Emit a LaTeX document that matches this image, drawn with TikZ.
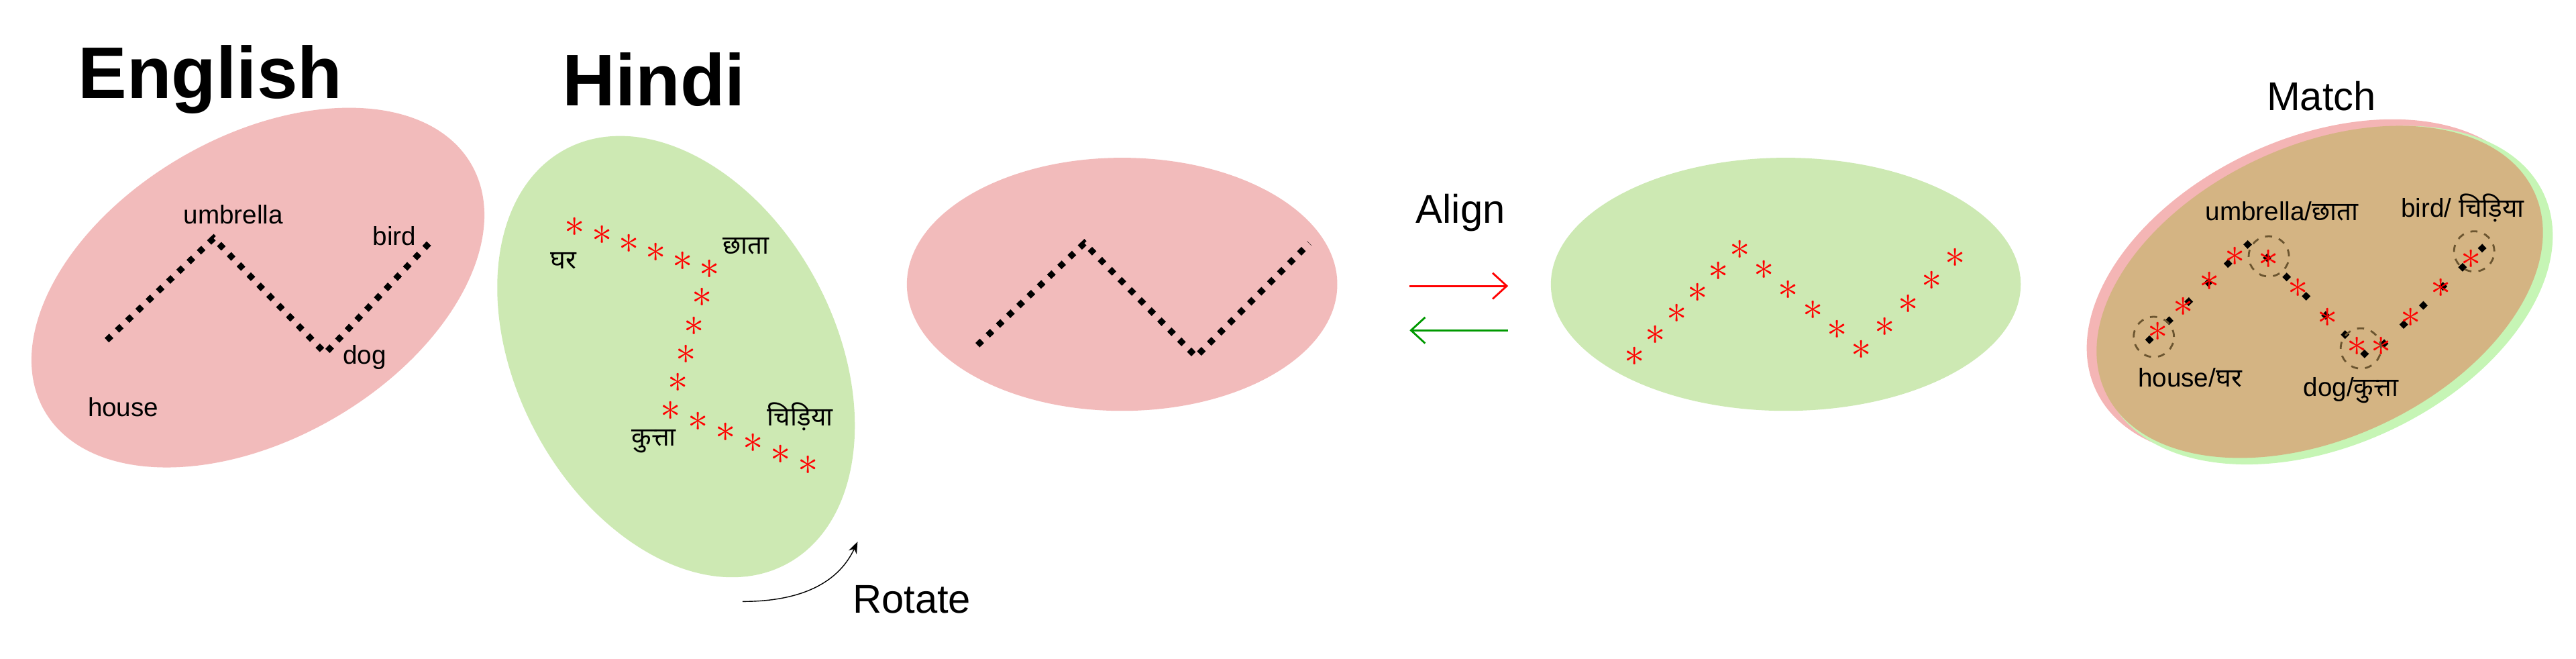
\documentclass[tikz,border=0pt]{standalone}
\usepackage{fontspec}
\setmainfont{Liberation Sans}
\newfontfamily\hindi[Script=Devanagari]{Noto Sans}
\usetikzlibrary{calc}
\usetikzlibrary{arrows.meta}

\definecolor{pinkfill}{HTML}{F2BBBB}
\definecolor{greenfill}{HTML}{CDE9B3}
\definecolor{matchpink}{HTML}{F4B5B5}
\definecolor{matchgreen}{HTML}{C6F5B5}
\definecolor{matchbrown}{HTML}{D4B483}
\definecolor{ringbrown}{HTML}{6B5530}

\tikzset{
  title/.style={font=\fontsize{31}{36}\selectfont\bfseries},
  action/.style={font=\fontsize{17}{20}\selectfont},
  word/.style={font=\fontsize{11}{13}\selectfont, inner sep=1pt},
  zigzag/.style={line width=2.6pt, dash pattern=on 2.6pt off 3.4pt},
  star/.style={text=red, inner sep=0pt, font=\LARGE},
  ring/.style={circle, draw=ringbrown, dashed, thick, minimum size=0.6cm, inner sep=0pt},
}

\begin{document}
\begin{tikzpicture}[x=0.02449cm, y=0.02449cm]
            % Define the page
            \useasboundingbox (0,0) rectangle (1568,400.6);
            \def\stars#1#2#3#4{% from, to, first, intervals
              \foreach \i in {#3,...,#4} {
                \node[star] at ($(#1)!{\i/#4}!(#2)$) {$\ast$};
              }}

            % English cloud
            \node[title] (english) at (128,352) {English};
            \fill[pinkfill] (157,225.6) ellipse[x radius=150, y radius=92, rotate=30];
            \coordinate (E1) at (65,193.6);
            \coordinate (E2) at (130,255.6);
            \coordinate (E3) at (198,185.6);
            \coordinate (E4) at (264,255.6);
            \draw[zigzag] (E1) -- (E2) -- (E3) -- (E4);
            \node[word] (umbrella) at (142,270) {umbrella};
            \node[word] (bird) at (240,257) {bird};
            \node[word] (dog) at (222,183) {dog};
            \node[word] (house) at (75,153) {house};

            % Hindi cloud
            \node[title] (hindi) at (398,352) {Hindi};
            \fill[greenfill] (411.5,183.6) ellipse[x radius=143, y radius=97, rotate=-62];
            \coordinate (H1) at (350,262.6);
            \coordinate (H2) at (432,236.6);
            \coordinate (H3) at (408,150.6);
            \coordinate (H4) at (492,117.6);
            \stars{H1}{H2}{0}{5}
            \stars{H2}{H3}{1}{5}
            \stars{H3}{H4}{1}{5}
            \node[word] (ghar) at (343,242) {\hindi घर};
            \node[word] (chhata) at (454,251) {\hindi छाता};
            \node[word] (kutta) at (398,132) {\hindi कुत्ता};
            \node[word] (chidiya) at (487,147) {\hindi चिड़िया};

            % Rotate
            \coordinate (rotS) at (452,34.6);
            \coordinate (rotE) at (522,71);
            \draw[-{Stealth[length=5pt]}, thin] (rotS) to[out=0, in=245] (rotE);
            \node[action] (rotate) at (555,36) {Rotate};

            % Align
            \fill[pinkfill] (683,227.6) ellipse[x radius=131, y radius=77];
            \coordinate (A1) at (595,190.6);
            \coordinate (A2) at (660,252.6);
            \coordinate (A3) at (728,183.6);
            \coordinate (A4) at (797,252.6);
            \draw[zigzag] (A1) -- (A2) -- (A3) -- (A4);
            \fill[greenfill] (1087,227.6) ellipse[x radius=143, y radius=77];
            \coordinate (B1) at (995,183.6);
            \coordinate (B2) at (1059,248.6);
            \coordinate (B3) at (1133,187.6);
            \coordinate (B4) at (1190,243.6);
            \stars{B1}{B2}{0}{5}
            \stars{B2}{B3}{1}{5}
            \stars{B3}{B4}{1}{4}
            \node[action] (align) at (889,271) {Align};
            \coordinate (fwdS) at (858,226.6);
            \coordinate (fwdE) at (918,226.6);
            \coordinate (bckS) at (918,199.6);
            \coordinate (bckE) at (858,199.6);
            \draw[red, thick, -{Straight Barb[length=6pt, width=11pt]}] (fwdS) -- (fwdE);
            \draw[green!60!black, thick, -{Straight Barb[length=6pt, width=11pt]}] (bckS) -- (bckE);

            % Match
            \node[action] (match) at (1413,342) {Match};
            \fill[matchpink] (1408,225) ellipse[x radius=146, y radius=91, rotate=25];
            \fill[matchgreen] (1416,221) ellipse[x radius=146, y radius=91, rotate=25];
            \fill[matchbrown] (1412,223) ellipse[x radius=144, y radius=89, rotate=25];
            \coordinate (M1) at (1307,192.6);
            \coordinate (M2) at (1370,253.6);
            \coordinate (M3) at (1442,182.6);
            \coordinate (M4) at (1515,253.6);
            \draw[zigzag, dash pattern=on 2.6pt off 9pt] (M1) -- (M2) -- (M3) -- (M4);
            \foreach \t in {0.1,0.35,0.6,0.85} {
              \node[star] at ($(M1)!\t!(M2)$) {$\ast$};
              \node[star] at ($(M3)!\t!(M4)$) {$\ast$};
            }
            \foreach \t in {0.15,0.4,0.65,0.9} {
              \node[star] at ($(M2)!\t!(M3)$) {$\ast$};
            }
            \node[ring] (ringH) at (1311,195.6) {};
            \node[ring] (ringU) at (1381,244.6) {};
            \node[ring] (ringD) at (1437,188.6) {};
            \node[ring] (ringB) at (1506,247.6) {};
            \node[word] (umbrellaM) at (1389,272) {umbrella/{\hindi छाता}};
            \node[word] (birdM) at (1499,274) {bird/ {\hindi चिड़िया}};
            \node[word] (houseM) at (1333,171) {house/{\hindi घर}};
            \node[word] (dogM) at (1431,163) {dog/{\hindi कुत्ता}};

        \end{tikzpicture}
\end{document}
